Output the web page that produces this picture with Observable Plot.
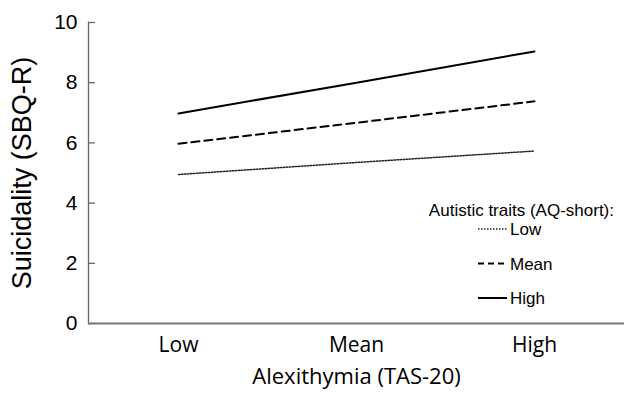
<!DOCTYPE html>
<html>
<head>
<meta charset="utf-8">
<script src="https://cdn.jsdelivr.net/npm/d3@7"></script>
<script src="https://cdn.jsdelivr.net/npm/@observablehq/plot@0.6"></script>
<style>
  html, body { margin: 0; padding: 0; background: #fff; }
  #wrap { position: relative; width: 624px; height: 400px; }
  #legend { position: absolute; left: 0; top: 0; width: 624px; height: 400px; pointer-events: none; }
</style>
</head>
<body>
<div id="wrap"></div>
<script>
const categories = ["Low", "Mean", "High"];
const seriesNames = ["Low", "Mean", "High"];
const lowTraits = [4.95, 5.35, 5.73];
const meanTraits = [5.97, 6.67, 7.38];
const highTraits = [6.98, 8.0, 9.04];
const yTicks = [0, 2, 4, 6, 8, 10];
const xTitle = "Alexithymia (TAS-20)";
const yTitle = "Suicidality (SBQ-R)";
const legendTitle = "Autistic traits (AQ-short):";

const seriesValues = [lowTraits, meanTraits, highTraits];
const data = [];
seriesNames.forEach((s, i) => {
  categories.forEach((c, j) => data.push({series: s, x: c, y: seriesValues[i][j]}));
});

const styles = {
  Low: {strokeWidth: 1.5, strokeDasharray: "1.5 1.5", stroke: "#222"},
  Mean: {strokeWidth: 2, strokeDasharray: "8 5", stroke: "#000"},
  High: {strokeWidth: 2, strokeDasharray: null, stroke: "#000"}
};

const chart = Plot.plot({
  width: 624,
  height: 400,
  marginTop: 22,
  marginBottom: 77,
  marginLeft: 88,
  marginRight: 0,
  x: {type: "point", domain: categories, padding: 0.5},
  y: {domain: [0, 10]},
  marks: [
    Plot.axisY({ticks: yTicks, tickSize: 0, tickPadding: 11, label: null,
      fontSize: 21, fontFamily: "Liberation Sans, Arial, sans-serif", color: "#000"}),
    Plot.tickY(yTicks, {y: d => d, frameAnchor: "left", stroke: "#666", strokeWidth: 1.3, inset: 0}),
    Plot.frame({anchor: "left", stroke: "#666", strokeWidth: 1.3}),
    Plot.ruleY([0], {stroke: "#777", strokeWidth: 1.8}),
    Plot.axisX({tickSize: 0, tickPadding: 14, label: null,
      fontSize: 21, fontFamily: "Open Sans, sans-serif"}),
    ...seriesNames.map(s => Plot.line(data.filter(d => d.series === s), {
      x: "x", y: "y", ...styles[s]
    })),
    Plot.text([yTitle], {frameAnchor: "left", dx: -66, rotate: -90, textAnchor: "middle", lineAnchor: "middle",
      fontSize: 27, fontFamily: "Liberation Sans, Arial, sans-serif", fill: "#000"}),
    Plot.text([xTitle], {frameAnchor: "bottom", dy: 53, textAnchor: "middle", lineAnchor: "middle",
      fontSize: 22, fontFamily: "Open Sans, sans-serif", fill: "#000"})
  ]
});
chart.style.fontFamily = "Liberation Sans, Arial, sans-serif";
// make y ticks short inward stubs (7px) starting at the axis line
chart.querySelectorAll('g[aria-label="tick"] line').forEach(l => {
  const x1 = +l.getAttribute("x1");
  l.setAttribute("x2", x1 + 7);
});
const yl = chart.querySelector('g[aria-label="y-axis tick label"]');
if (yl) yl.setAttribute("fill", "#000");
const xl = chart.querySelector('g[aria-label="x-axis tick label"]');
if (xl) xl.setAttribute("fill", "#000");
document.getElementById("wrap").appendChild(chart);

// Legend overlay
const ns = "http://www.w3.org/2000/svg";
const lg = document.createElementNS(ns, "svg");
lg.setAttribute("id", "legend");
lg.setAttribute("width", 624);
lg.setAttribute("height", 400);
const title = document.createElementNS(ns, "text");
title.setAttribute("x", 614);
title.setAttribute("y", 216);
title.setAttribute("text-anchor", "end");
title.setAttribute("font-family", "Liberation Sans, Arial, sans-serif");
title.setAttribute("font-size", 17);
title.textContent = legendTitle;
lg.appendChild(title);
seriesNames.forEach((s, i) => {
  const cy = 229 + i * 34.5;
  const ln = document.createElementNS(ns, "line");
  ln.setAttribute("x1", 478); ln.setAttribute("x2", 507);
  ln.setAttribute("y1", cy); ln.setAttribute("y2", cy);
  ln.setAttribute("stroke", styles[s].stroke);
  ln.setAttribute("stroke-width", styles[s].strokeWidth);
  if (styles[s].strokeDasharray) ln.setAttribute("stroke-dasharray", styles[s].strokeDasharray === "8 5" ? "6 4" : styles[s].strokeDasharray);
  lg.appendChild(ln);
  const tx = document.createElementNS(ns, "text");
  tx.setAttribute("x", 510);
  tx.setAttribute("y", cy + 6);
  tx.setAttribute("font-family", "Liberation Sans, Arial, sans-serif");
  tx.setAttribute("font-size", 17);
  tx.textContent = s;
  lg.appendChild(tx);
});
document.getElementById("wrap").appendChild(lg);
</script>
</body>
</html>
